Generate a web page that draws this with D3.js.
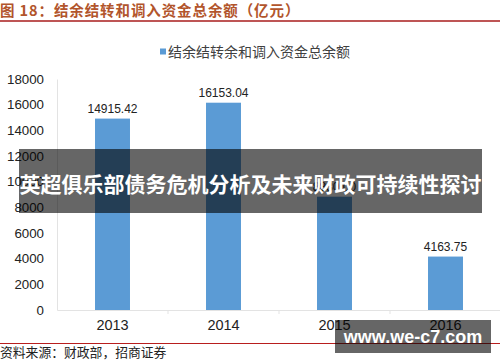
<!DOCTYPE html>
<html>
<head>
<meta charset="utf-8">
<script src="https://cdn.jsdelivr.net/npm/d3@7"></script>
<style>
  html, body { margin: 0; padding: 0; background: #fff; }
  svg { display: block; font-family: "Liberation Sans", Arial, sans-serif; }
</style>
</head>
<body>
<div class="chart"></div>
<script>
// data
const years = ['2013', '2014', '2015', '2016']
const totals = [14915.42, 16153.04, 8830.00, 4163.75]
const yTicks = [0, 2000, 4000, 6000, 8000, 10000, 12000, 14000, 16000, 18000]

const titleText = '图 18：结余结转和调入资金总余额（亿元）'
const legendText = '结余结转余和调入资金总余额'
const sourceText = '资料来源：财政部，招商证券'
const overlayText = '英超俱乐部债务危机分析及未来财政可持续性探讨'
const watermark = 'www.we-c7.com'

const width = 500, height = 362
const margin = {top: 79, right: -1, bottom: 52, left: 57}
const cjk = '"Noto Sans CJK SC", sans-serif'

const svg = d3.select('.chart').append('svg')
  .attr('width', width)
  .attr('height', height)

const x = d3.scaleBand()
  .domain(years)
  .range([margin.left, width - margin.right])

const y = d3.scaleLinear()
  .domain([0, 18000])
  .range([height - margin.bottom, margin.top])

const barW = x.bandwidth() * 0.315

//==========header
svg.append('text')
  .attr('x', 0).attr('y', 16)
  .attr('font-family', cjk)
  .attr('font-size', 14.5)
  .attr('font-weight', 'bold')
  .attr('letter-spacing', 0.9)
  .attr('fill', '#b2552c')
  .text(titleText)

svg.append('line')
  .attr('x1', 0).attr('x2', width)
  .attr('y1', 21).attr('y2', 21)
  .attr('stroke', '#a81c1c').attr('stroke-width', 1.5)

// legend
svg.append('rect')
  .attr('x', 160).attr('y', 48.5)
  .attr('width', 6).attr('height', 6)
  .attr('fill', '#5b9bd5')
svg.append('text')
  .attr('x', 168).attr('y', 56.5)
  .attr('font-family', cjk)
  .attr('font-size', 14)
  .attr('fill', '#404040')
  .text(legendText)

//==========axes
const yAxis = svg.append('g')
  .attr('transform', `translate(${margin.left},0)`)
  .call(d3.axisLeft(y).tickValues(yTicks).tickSize(0).tickPadding(13).tickFormat(d3.format('d')))
yAxis.select('.domain').attr('stroke', '#e3e3e3')
yAxis.selectAll('text')
  .attr('font-size', 13.3)
  .attr('font-family', '"Liberation Sans", Arial, sans-serif')
  .attr('fill', '#222')

const xAxis = svg.append('g')
  .attr('transform', `translate(0,${y(0)})`)
  .call(d3.axisBottom(x).tickSize(0).tickPadding(10))
xAxis.select('.domain').attr('stroke', '#e3e3e3')
xAxis.selectAll('text')
  .attr('font-size', 14.5)
  .attr('font-family', '"Liberation Sans", Arial, sans-serif')
  .attr('fill', '#222')

// band boundary ticks
svg.append('g')
  .selectAll('line')
  .data(years.slice(1))
  .enter()
  .append('line')
  .attr('x1', d => x(d)).attr('x2', d => x(d))
  .attr('y1', y(0)).attr('y2', y(0) + 4)
  .attr('stroke', '#e3e3e3')

//==========bars
svg.append('g')
  .selectAll('rect')
  .data(totals)
  .enter()
  .append('rect')
  .attr('x', (d, i) => x(years[i]) + (x.bandwidth() - barW) / 2)
  .attr('y', d => y(d))
  .attr('width', barW)
  .attr('height', d => y(0) - y(d))
  .attr('fill', '#5b9bd5')

svg.append('g')
  .selectAll('text')
  .data(totals)
  .enter()
  .append('text')
  .attr('x', (d, i) => x(years[i]) + x.bandwidth() / 2)
  .attr('y', d => y(d) - 6)
  .attr('text-anchor', 'middle')
  .attr('font-size', 12)
  .attr('fill', '#222')
  .text(d => d3.format('.2f')(d))

//==========footer
svg.append('line')
  .attr('x1', 0).attr('x2', width)
  .attr('y1', 343.5).attr('y2', 343.5)
  .attr('stroke', '#b81e1e').attr('stroke-width', 1.2)

svg.append('text')
  .attr('x', 0).attr('y', 357)
  .attr('font-family', cjk)
  .attr('font-size', 12.8)
  .attr('fill', '#222')
  .text(sourceText)

//==========overlays
svg.append('rect')
  .attr('x', 19).attr('y', 149)
  .attr('width', 463).attr('height', 64)
  .attr('fill', 'rgba(0,0,0,0.6)')
svg.append('text')
  .attr('x', 250.5).attr('y', 192)
  .attr('text-anchor', 'middle')
  .attr('font-family', cjk)
  .attr('font-size', 21)
  .attr('font-weight', 'bold')
  .attr('fill', '#fff')
  .text(overlayText)

svg.append('rect')
  .attr('x', 335).attr('y', 320)
  .attr('width', 156).attr('height', 33)
  .attr('fill', 'rgba(0,0,0,0.6)')
svg.append('text')
  .attr('x', 413).attr('y', 343)
  .attr('text-anchor', 'middle')
  .attr('font-family', '"Liberation Sans", Arial, sans-serif')
  .attr('font-size', 18)
  .attr('font-weight', 'bold')
  .attr('fill', '#fff')
  .text(watermark)
</script>
</body>
</html>
